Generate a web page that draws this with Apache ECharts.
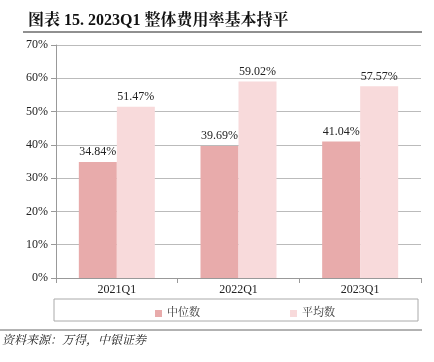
<!DOCTYPE html>
<html><head><meta charset="utf-8">
<script src="https://cdn.jsdelivr.net/npm/echarts@6/dist/echarts.min.js"></script>
<style>html,body{margin:0;padding:0;background:#fff}#c{width:434px;height:362px}</style>
</head><body><div id="c"></div>
<script>
const categories = ['2021Q1', '2022Q1', '2023Q1'];
const median = [34.84, 39.69, 41.04];
const mean = [51.47, 59.02, 57.57];
const seriesNames = ['中位数', '平均数'];
const serif = '"Times New Roman", "Liberation Serif", "Noto Serif CJK SC", "Noto Sans CJK SC", serif';
const chart = echarts.init(document.getElementById('c'));
const lbl = {show: true, position: 'top', distance: 4, color: '#222', fontFamily: serif, fontSize: 12,
  formatter: p => p.value.toFixed(2) + '%'};
chart.setOption({
  animation: false,
  title: {text: '图表 15. 2023Q1 整体费用率基本持平', left: 23, top: 8,
    textStyle: {fontFamily: serif, fontSize: 16, fontWeight: 'bold', color: '#111'}},
  graphic: [
    {type: 'line', shape: {x1: 23, y1: 32, x2: 422, y2: 32}, style: {stroke: '#222', lineWidth: 1.2}},
    {type: 'line', shape: {x1: 0, y1: 330, x2: 422, y2: 330}, style: {stroke: '#666', lineWidth: 1}},
    {type: 'rect', shape: {x: 54, y: 299, width: 364, height: 22}, style: {fill: 'none', stroke: '#aaa', lineWidth: 1}},
    {type: 'text', left: 2, top: 335, style: {text: '资料来源：万得，中银证券', fontFamily: serif, fontSize: 12, fontStyle: 'italic', fill: '#222'}}
  ],
  legend: {data: seriesNames, top: 303, left: 150, itemGap: 90, itemWidth: 7, itemHeight: 7, icon: 'rect',
    textStyle: {fontFamily: serif, fontSize: 11, color: '#333'}},
  grid: {left: 56, right: 13, top: 45, bottom: 84},
  xAxis: {type: 'category', data: categories,
    axisLine: {lineStyle: {color: '#999'}}, axisTick: {show: true, lineStyle: {color: '#999'}},
    axisLabel: {color: '#222', fontFamily: serif, fontSize: 12, margin: 6}},
  yAxis: {type: 'value', min: 0, max: 70, interval: 10,
    axisLine: {show: true, lineStyle: {color: '#999'}}, axisTick: {show: true, lineStyle: {color: '#999'}},
    splitLine: {lineStyle: {color: '#bbb'}},
    axisLabel: {formatter: '{value}%', color: '#222', fontFamily: serif, fontSize: 12}},
  series: [
    {name: seriesNames[0], type: 'bar', data: median, barWidth: 38, barGap: '0%', itemStyle: {color: '#E8ABAB'}, label: lbl},
    {name: seriesNames[1], type: 'bar', data: mean, barWidth: 38, itemStyle: {color: '#F8DADB'}, label: lbl}
  ]
});
</script></body></html>
